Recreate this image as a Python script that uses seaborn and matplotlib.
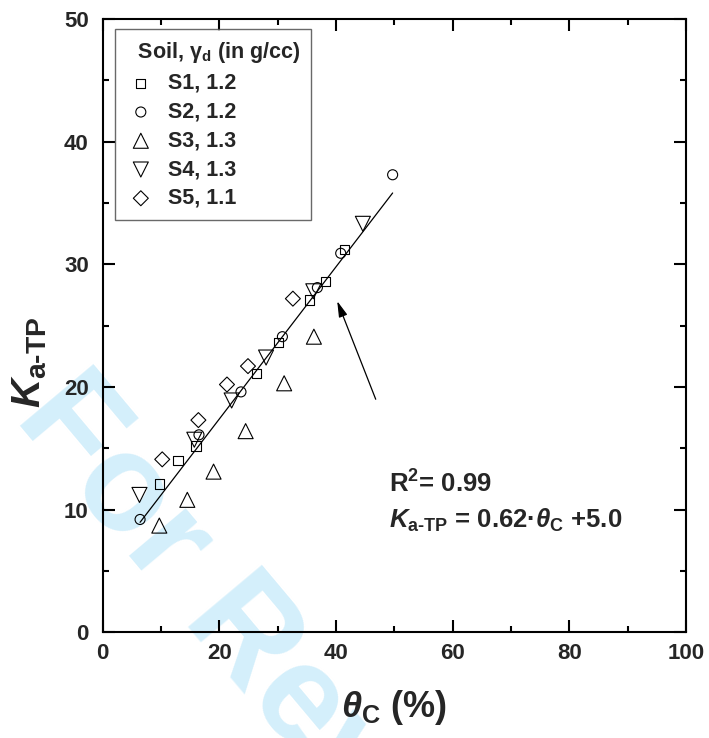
import matplotlib
matplotlib.use("Agg")
import matplotlib.pyplot as plt
import seaborn as sns
import pandas as pd

# ---- data ----
s1_theta = [9.7, 12.9, 16.0, 26.4, 30.1, 35.4, 38.2, 41.4]
s1_ka = [12.1, 14.0, 15.2, 21.1, 23.6, 27.1, 28.6, 31.2]
s2_theta = [6.4, 16.5, 23.7, 30.8, 36.8, 40.8, 49.7]
s2_ka = [9.2, 16.1, 19.6, 24.1, 28.1, 30.9, 37.3]
s3_theta = [9.7, 14.5, 19.0, 24.5, 31.1, 36.2]
s3_ka = [8.7, 10.8, 13.1, 16.4, 20.3, 24.1]
s4_theta = [6.3, 15.7, 22.1, 28.0, 36.1, 44.6]
s4_ka = [11.2, 15.7, 18.9, 22.4, 27.8, 33.3]
s5_theta = [10.2, 16.4, 21.3, 24.9, 32.6]
s5_ka = [14.1, 17.3, 20.2, 21.7, 27.2]

series_labels = ["S1, 1.2", "S2, 1.2", "S3, 1.3", "S4, 1.3", "S5, 1.1"]
fit_slope = 0.62
fit_intercept = 5.0
fit_range = [6.4, 49.7]
x_ticks = [0, 20, 40, 60, 80, 100]
y_ticks = [0, 10, 20, 30, 40, 50]

sns.set_theme(style="ticks")
plt.rcParams["font.family"] = ["Liberation Sans", "DejaVu Sans"]
plt.rcParams["font.weight"] = "bold"
plt.rcParams["axes.labelweight"] = "bold"
plt.rcParams["mathtext.fontset"] = "custom"
plt.rcParams["mathtext.rm"] = "Liberation Sans:bold"
plt.rcParams["mathtext.bf"] = "Liberation Sans:bold"
plt.rcParams["mathtext.it"] = "Liberation Sans:italic:bold"
plt.rcParams["mathtext.sf"] = "Liberation Sans:bold"

fig = plt.figure(figsize=(7.09, 7.38), dpi=100)
ax = fig.add_axes([0.1449, 0.1432, 0.8227, 0.8311])
ax.set_facecolor("none")

# watermark
fig.text(13 / 709, 1 - 418 / 738, "For Review Only", rotation=-50,
         rotation_mode="anchor", ha="left", va="baseline",
         fontsize=100, fontweight="bold", color="#d4effb", zorder=-1)

marker_cfg = [("s", 45), ("o", 52), ("^", 117), ("v", 117), ("D", 58)]
all_data = [(s1_theta, s1_ka), (s2_theta, s2_ka), (s3_theta, s3_ka),
            (s4_theta, s4_ka), (s5_theta, s5_ka)]
for (xs, ys), (mk, sz), lab in zip(all_data, marker_cfg, series_labels):
    df = pd.DataFrame({"theta": xs, "ka": ys})
    sns.scatterplot(data=df, x="theta", y="ka", marker=mk, s=sz,
                    facecolor="none", edgecolor="black", linewidth=0.8,
                    label=lab, ax=ax, zorder=3)

fit_df = pd.DataFrame({"theta": fit_range,
                       "ka": [fit_slope * v + fit_intercept for v in fit_range]})
sns.lineplot(data=fit_df, x="theta", y="ka", color="black", linewidth=0.9,
             ax=ax, legend=False, zorder=2)

ax.annotate("", xy=(40.2, 27.0), xytext=(46.8, 19.0),
            arrowprops=dict(arrowstyle="-|>,head_length=0.8,head_width=0.22",
                            color="black", lw=0.9, shrinkA=0, shrinkB=0))

ax.set_xlim(0, 100)
ax.set_ylim(0, 50)
ax.set_xticks(x_ticks)
ax.set_yticks(y_ticks)
ax.set_xticks([10, 30, 50, 70, 90], minor=True)
ax.set_yticks([5, 15, 25, 35, 45], minor=True)
ax.tick_params(which="both", direction="in", top=True, right=True,
               width=1.5, color="black")
ax.tick_params(which="major", length=8.5, labelsize=16)
ax.tick_params(axis="x", which="major", pad=8)
ax.tick_params(axis="y", which="major", pad=10)
ax.tick_params(which="minor", length=4)
for lbl in ax.get_xticklabels() + ax.get_yticklabels():
    lbl.set_fontweight("bold")
for sp in ax.spines.values():
    sp.set_visible(True)
    sp.set_linewidth(1.5)
    sp.set_color("black")

ax.set_xlabel(r"$\mathit{\theta}_{\text{C}}$ (%)", fontsize=26,
              fontweight="bold", labelpad=17)
ax.set_ylabel(r"$\mathit{K}_{\text{a-TP}}$", fontsize=29,
              fontweight="bold")
ax.yaxis.set_label_coords(-0.092, 0.44)

ax.text(49.1, 11.4, r"R$^{\text{2}}$= 0.99", fontsize=18.5, fontweight="bold")
ax.text(49.1, 8.5, r"$\mathit{K}_{\text{a-TP}}$ = 0.62·$\mathit{\theta}_{\text{C}}$ +5.0",
        fontsize=18.5, fontweight="bold")

leg = ax.legend(title=r"  Soil, γ$_{\text{d}}$ (in g/cc)", loc="upper left",
                bbox_to_anchor=(0.021, 0.983), borderaxespad=0,
                prop={"weight": "bold", "size": 15.5},
                title_fontproperties={"weight": "bold", "size": 15.5},
                frameon=True, fancybox=False, edgecolor="#444444",
                handlelength=1.4, handletextpad=0.57, labelspacing=0.36,
                borderpad=0.5, alignment="left")
leg.get_frame().set_linewidth(1.0)

fig.savefig("out.png", dpi=100)
